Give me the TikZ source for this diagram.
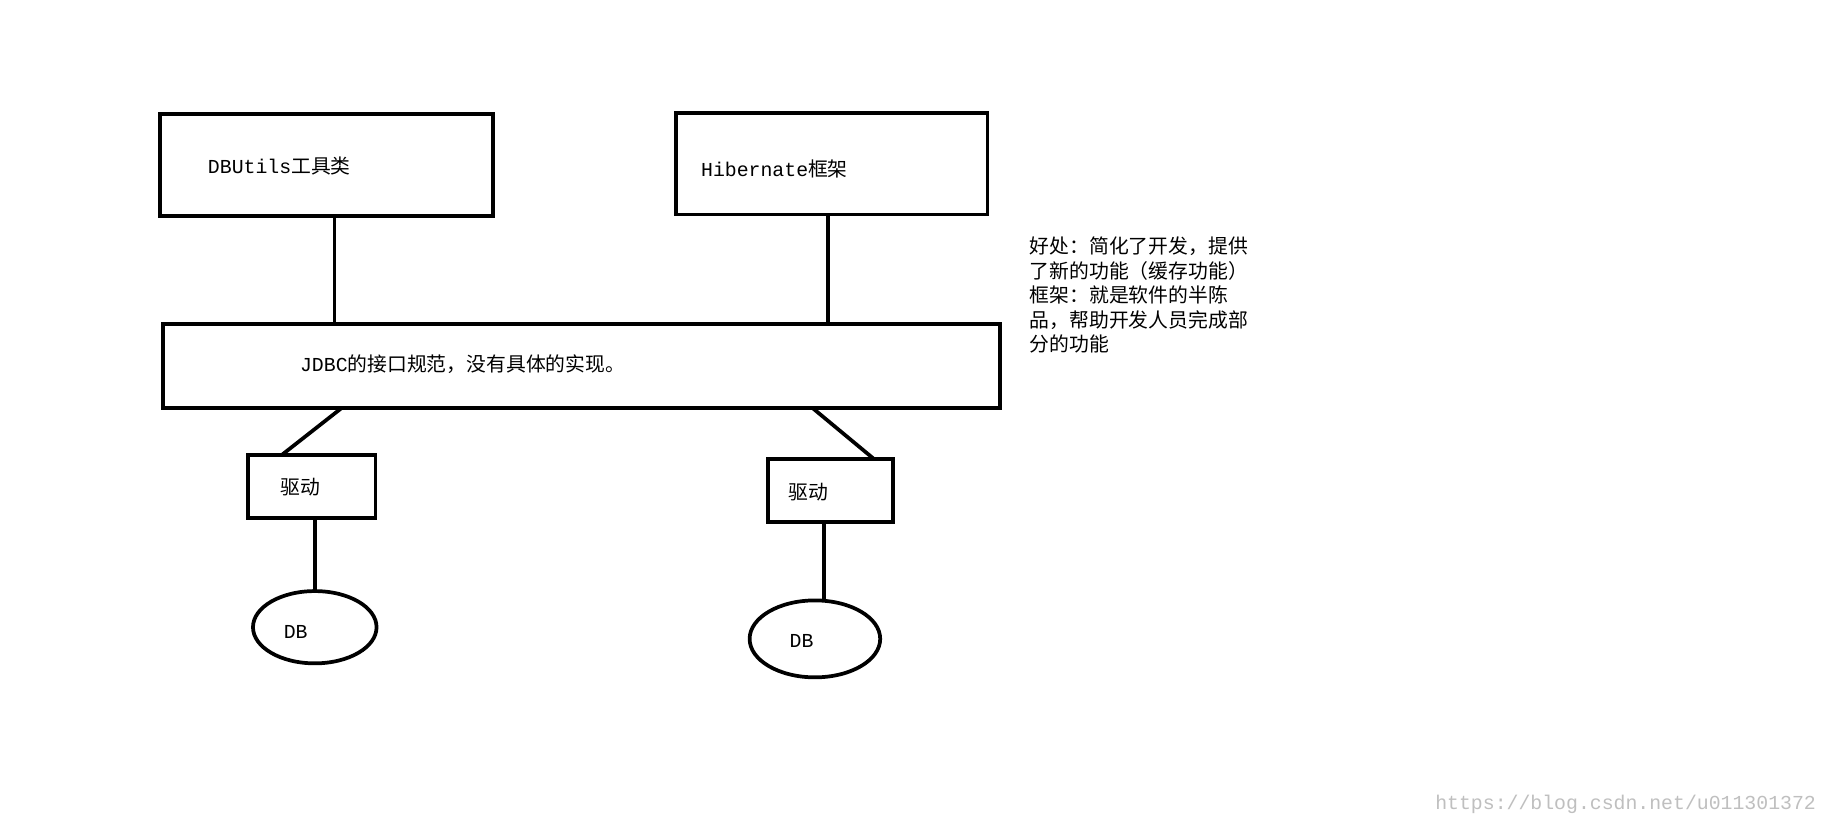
\documentclass[tikz,border=0pt]{standalone}
\usepackage{fontspec}
\setmainfont{Noto Sans CJK SC}
\setmonofont{Liberation Mono}
\usetikzlibrary{calc}
\begin{document}
\begin{tikzpicture}[x=0.5pt,y=-0.5pt,
  bx/.style={draw,line width=1.6pt,minimum width=#1},
  ln/.style={line width=1.6pt},
  lab/.style={anchor=west,font=\fontsize{8.5}{10.5}\selectfont,inner sep=0pt}]
\useasboundingbox (0,0) rectangle (1568,708);
\draw[fill=white,draw=none] (0,0) rectangle (1568,708);
\draw[line width=1.6pt] (137,98) rectangle (423,185);
\coordinate (dbuS) at (287,185);
\node[lab] (t1) at (178,142) {\texttt{DBUtils}工具类};
\draw[line width=1.6pt] (580,97) rectangle (847,184);
\coordinate (hibS) at (710,184);
\node[lab] (t2) at (601,145) {\texttt{Hibernate}框架};
\draw[line width=1.6pt] (140,278) rectangle (858,350);
\coordinate (jA) at (287,278); \coordinate (jB) at (710,278);
\coordinate (jC) at (293,350); \coordinate (jD) at (697,350);
\node[lab] (t3) at (257,312) {\texttt{JDBC}的接口规范，没有具体的实现。};
\draw[line width=1.6pt] (213,390) rectangle (322,444);
\coordinate (d1T) at (242,390); \coordinate (d1B) at (270,444);
\node[lab] (t4) at (240,418) {驱动};
\draw[line width=1.6pt] (659,394) rectangle (766,448);
\coordinate (d2T) at (750,394); \coordinate (d2B) at (707,448);
\node[lab] (t5) at (676,422) {驱动};
\draw[line width=1.6pt] (270,538) ellipse [x radius=53,y radius=31];
\coordinate (e1T) at (270,508);
\node[lab] (t6) at (243,542) {\texttt{DB}};
\draw[line width=1.6pt] (699,548) ellipse [x radius=56,y radius=33];
\coordinate (e2T) at (707,515);
\node[lab] (t7) at (677,550) {\texttt{DB}};
\draw[ln] (dbuS) -- (jA);
\draw[ln] (hibS) -- (jB);
\draw[ln] (jC) -- (d1T);
\draw[ln] (jD) -- (d2T);
\draw[ln] (d1B) -- (e1T);
\draw[ln] (d2B) -- (e2T);
\node[lab,anchor=north west,align=left] (note) at (883,203) {好处：简化了开发，提供\\了新的功能（缓存功能）\\框架：就是软件的半陈\\品，帮助开发人员完成部\\分的功能};
\node[lab,anchor=east,text=black!25] (wm) at (1558,690) {\texttt{https://blog.csdn.net/u011301372}};
\end{tikzpicture}
\end{document}
